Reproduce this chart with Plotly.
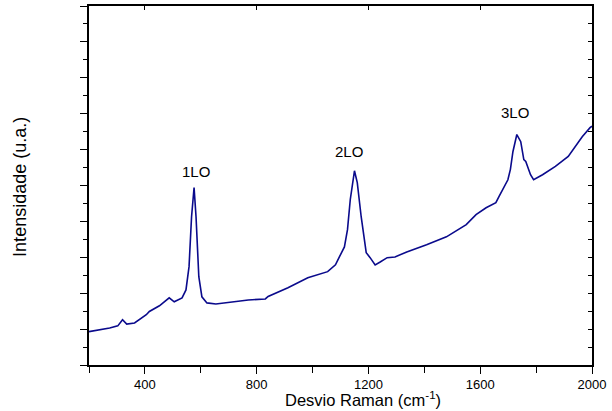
import plotly.graph_objects as go

# Raman shift (cm^-1) and intensity (a.u., arbitrary 0-10 frame)
shift = [200, 240, 274, 303, 320, 335, 363, 405, 416, 452, 487, 505, 533, 547, 558,
         567, 576, 583, 593, 604, 622, 654, 710, 770, 831, 841, 912, 983, 1054, 1082,
         1096, 1114, 1125, 1135, 1150, 1160, 1174, 1185, 1192, 1206, 1224, 1242, 1267,
         1295, 1337, 1408, 1479, 1550, 1585, 1621, 1656, 1667, 1685, 1699, 1708, 1717,
         1731, 1745, 1756, 1763, 1780, 1791, 1823, 1869, 1915, 1965, 1993, 2000]
intensity = [0.93, 0.98, 1.03, 1.09, 1.26, 1.14, 1.17, 1.40, 1.49, 1.65, 1.87, 1.76, 1.87, 2.09, 2.74,
             4.13, 4.94, 4.13, 2.46, 1.90, 1.73, 1.70, 1.76, 1.81, 1.84, 1.91, 2.15, 2.43, 2.60, 2.79,
             3.01, 3.29, 3.77, 4.61, 5.41, 5.08, 4.13, 3.49, 3.13, 2.99, 2.79, 2.87, 2.99,
             3.01, 3.15, 3.35, 3.57, 3.91, 4.19, 4.38, 4.52, 4.69, 4.94, 5.16, 5.45, 5.94,
             6.42, 6.22, 5.72, 5.67, 5.30, 5.16, 5.30, 5.53, 5.81, 6.36, 6.61, 6.65]

peak_labels = ["1LO", "2LO", "3LO"]
peak_x = [583, 1132, 1724]
peak_y = [5.39, 5.95, 7.04]

x_ticks = [400, 800, 1200, 1600, 2000]

FONT = "Arial, Liberation Sans, sans-serif"

fig = go.Figure()
fig.add_trace(go.Scatter(x=shift, y=intensity, mode="lines",
                         line=dict(color="#0a0a8c", width=1.6), showlegend=False,
                         hoverinfo="skip"))
fig.add_trace(go.Scatter(x=[None], y=[None], xaxis="x2", yaxis="y2",
                         mode="lines", showlegend=False, hoverinfo="skip"))

for t, px, py in zip(peak_labels, peak_x, peak_y):
    fig.add_annotation(x=px, y=py, xref="x", yref="y", text=t, showarrow=False,
                       font=dict(family=FONT, size=15, color="black"))

fig.add_annotation(x=0.545, y=-0.095, xref="paper", yref="paper", yanchor="middle",
                   xanchor="center",
                   text="Desvio Raman (cm<sup>-1</sup>)", showarrow=False,
                   font=dict(family=FONT, size=16.5, color="black"))
fig.add_annotation(x=-0.136, y=0.495, xref="paper", yref="paper", textangle=-90,
                   xanchor="center", yanchor="middle",
                   text="Intensidade (u.a.)", showarrow=False,
                   font=dict(family=FONT, size=18, color="black"))

fig.update_layout(
    width=612, height=411,
    margin=dict(l=89, r=15, t=6, b=46),
    plot_bgcolor="white", paper_bgcolor="white",
    font=dict(family=FONT, size=13, color="black"),
    xaxis=dict(range=[200, 2000], tickmode="array", tickvals=x_ticks,
               ticks="outside", ticklen=7, tickwidth=1, tickcolor="black",
               minor=dict(tickmode="linear", tick0=200, dtick=200, ticks="outside",
                          ticklen=6, tickcolor="black"),
               showline=True, linecolor="black", linewidth=1.5, showgrid=False,
               zeroline=False, tickfont=dict(size=13)),
    xaxis2=dict(range=[200, 2000], overlaying="x", side="top", tickmode="array",
                tickvals=x_ticks[:-1], ticks="inside", ticklen=4, tickcolor="black",
                showticklabels=False, showline=True, linecolor="black", linewidth=1.5,
                showgrid=False, zeroline=False),
    yaxis=dict(range=[0, 10], tickmode="linear", tick0=0, dtick=1,
               ticks="outside", ticklen=7, tickcolor="black",
               minor=dict(tickmode="linear", tick0=0, dtick=0.5, ticks="outside",
                          ticklen=4, tickcolor="black"),
               showticklabels=False, showline=True, linecolor="black", linewidth=1.5,
               showgrid=False, zeroline=False),
    yaxis2=dict(range=[0, 10], overlaying="y", side="right", tickmode="linear",
                tick0=0, dtick=0.5, ticks="inside", ticklen=4, tickcolor="black",
                showticklabels=False, showline=True, linecolor="black", linewidth=1.5,
                showgrid=False, zeroline=False),
)

fig.write_html("out.html")
